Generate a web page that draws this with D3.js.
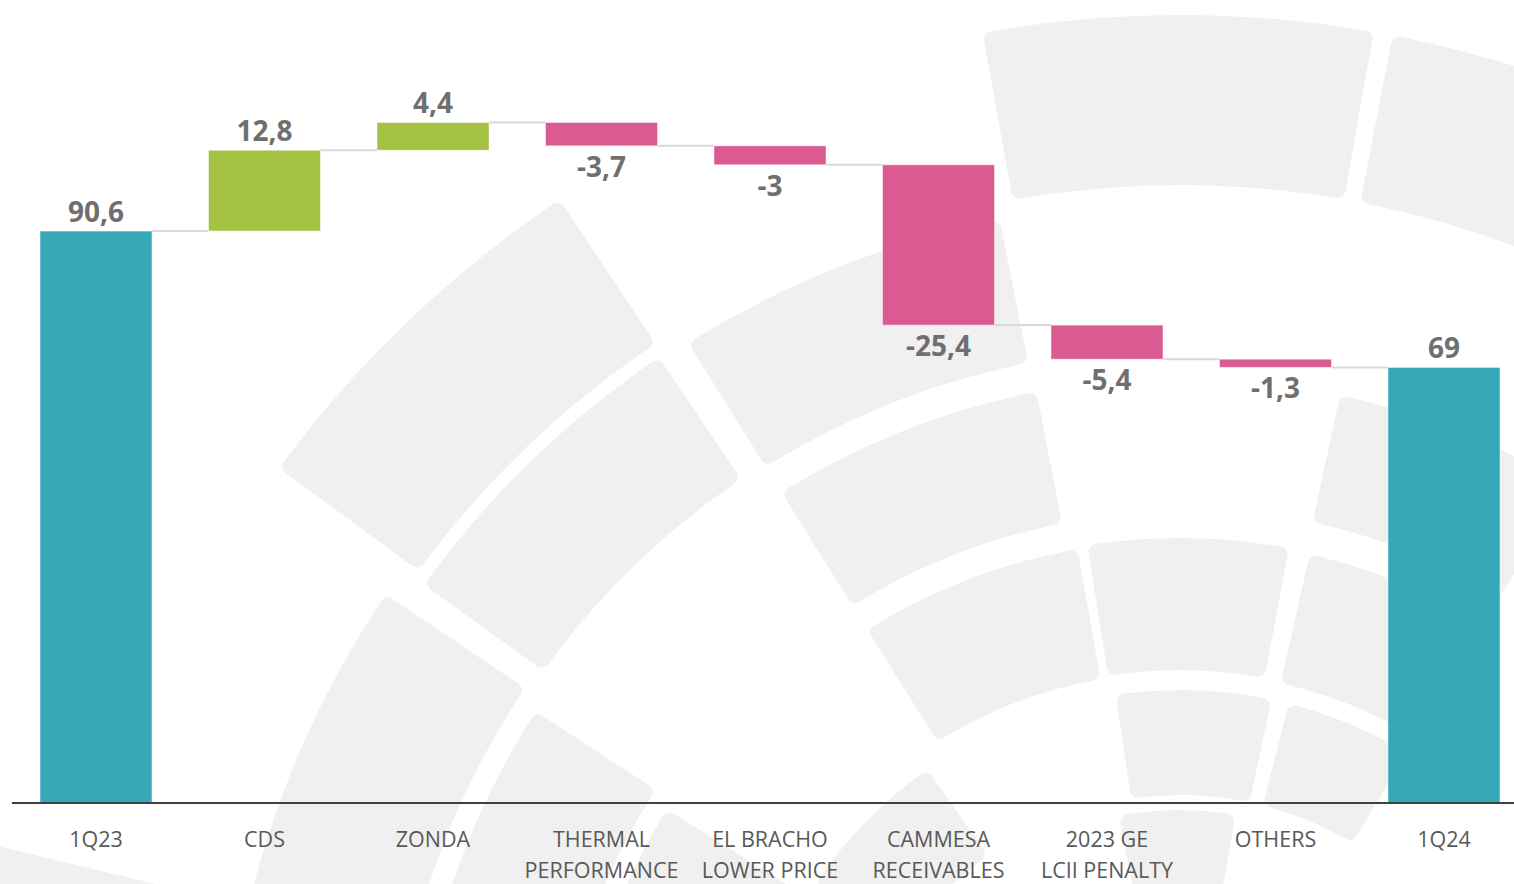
<!DOCTYPE html>
<html>
<head>
<meta charset="utf-8">
<script src="https://cdn.jsdelivr.net/npm/d3@7"></script>
<style>
  html, body { margin: 0; padding: 0; background: #fff; }
  svg { display: block; }
</style>
</head>
<body>
<svg id="chart"></svg>
<script>
// chart data
const categories = ["1Q23", "CDS", "ZONDA", "THERMAL\nPERFORMANCE", "EL BRACHO\nLOWER PRICE",
  "CAMMESA\nRECEIVABLES", "2023 GE\nLCII PENALTY", "OTHERS", "1Q24"];
const values = [90.6, 12.8, 4.4, -3.7, -3, -25.4, -5.4, -1.3, 69];
const kinds = ["total", "delta", "delta", "delta", "delta", "delta", "delta", "delta", "total"];

// faded logo in the background: pieces [innerR, outerR, startDeg, endDeg]
const pieces = [
  [960, 1220, -100, -76.5], [945, 1118, -53.7, -33.7], [945, 1115, -10.2, 10], [945, 1115, 11, 31],
  [790, 958, -80, -56], [785, 932, -54.2, -34], [782, 928, -32, -11.2],
  [625, 768, -80, -57], [618, 752, -32, -11], [622, 752, 12.3, 31],
  [458, 605, -80, -58], [458, 590, -32, -10], [460, 592, -9, 10.6], [458, 590, 12.7, 31],
  [335, 440, -56, -35], [335, 440, -8.4, 12], [335, 440, 14.3, 31],
  [190, 320, -11, 10]
];

const width = 1514;
const height = 884;

const svg = d3.select("#chart")
    .attr("width", width)
    .attr("height", height);

// watermark
const arc = d3.arc().cornerRadius(8);
const toRad = d => d * Math.PI / 180;
svg.append("g")
    .attr("transform", "translate(1180,1130)")
  .selectAll("path")
  .data(pieces)
  .join("path")
    .attr("d", d => arc({
      innerRadius: d[0],
      outerRadius: d[1],
      startAngle: toRad(d[2]),
      endAngle: toRad(d[3])
    }))
    .attr("fill", "#f0f0f0");

// running totals for the waterfall
let running = 0;
const steps = values.map((v, i) => {
  let start, end;
  if (kinds[i] === "total") {
    start = 0; end = v; running = v;
  } else {
    start = running; end = running + v; running = end;
  }
  return {name: categories[i], value: v, kind: kinds[i], start, end};
});

const x = d3.scaleBand()
    .domain(categories)
    .range([11.75, 1528.25])
    .paddingInner(0.335)
    .paddingOuter(0.1675);

const y = d3.scaleLinear()
    .domain([0, 127.2])
    .range([803, 0]);

const color = d => d.kind === "total" ? "#37a8b8" : (d.value >= 0 ? "#a5c243" : "#da5a91");

// connectors
svg.append("g")
  .selectAll("line")
  .data(steps.slice(0, -1))
  .join("line")
    .attr("x1", d => x(d.name) + x.bandwidth())
    .attr("x2", (d, i) => x(steps[i + 1].name))
    .attr("y1", d => y(d.end))
    .attr("y2", d => y(d.end))
    .attr("stroke", "#d9d9d9")
    .attr("stroke-width", 2);

// bars
svg.append("g")
  .selectAll("rect")
  .data(steps)
  .join("rect")
    .attr("x", d => x(d.name))
    .attr("width", x.bandwidth())
    .attr("y", d => y(Math.max(d.start, d.end)))
    .attr("height", d => Math.abs(y(d.start) - y(d.end)))
    .attr("fill", color)
    .attr("stroke", "#ffffff")
    .attr("stroke-opacity", 0.5)
    .attr("stroke-width", 1);

// value labels
const fmt = v => String(v).replace(".", ",");
svg.append("g")
  .selectAll("text")
  .data(steps)
  .join("text")
    .attr("x", d => x(d.name) + x.bandwidth() / 2)
    .attr("y", d => d.value >= 0 ? y(Math.max(d.start, d.end)) - 9 : y(Math.min(d.start, d.end)) + 31)
    .attr("text-anchor", "middle")
    .attr("font-family", "'Open Sans', sans-serif")
    .attr("font-weight", "bold")
    .attr("font-size", 28)
    .attr("fill", "#6f6f6f")
    .text(d => fmt(d.value));

// x axis
svg.append("line")
    .attr("x1", 12).attr("x2", width)
    .attr("y1", y(0)).attr("y2", y(0))
    .attr("stroke", "#404040")
    .attr("stroke-width", 2);

const catText = svg.append("g")
  .selectAll("text")
  .data(categories)
  .join("text")
    .attr("x", d => x(d) + x.bandwidth() / 2)
    .attr("y", 847)
    .attr("text-anchor", "middle")
    .attr("font-family", "'Open Sans', sans-serif")
    .attr("font-size", 21.5)
    .attr("fill", "#595959");

catText.selectAll("tspan")
  .data(d => d.split("\n"))
  .join("tspan")
    .attr("x", function() { return this.parentNode.getAttribute("x"); })
    .attr("dy", (d, i) => i === 0 ? 0 : 31)
    .text(d => d);
</script>
</body>
</html>
